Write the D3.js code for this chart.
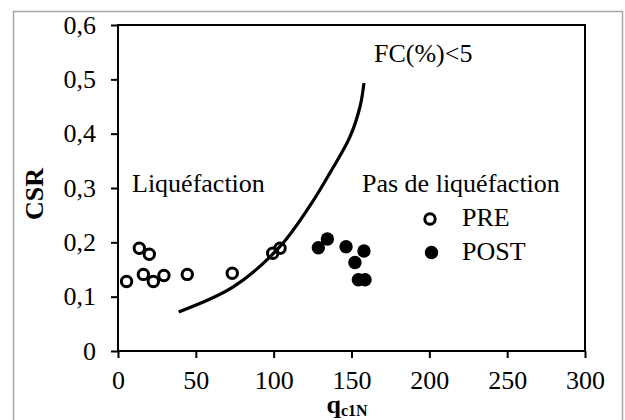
<!DOCTYPE html>
<html>
<head>
<meta charset="utf-8">
<script src="https://cdn.jsdelivr.net/npm/d3@7"></script>
<style>
  body { margin: 0; background: #fff; }
  svg text { font-family: "Liberation Serif", "Times New Roman", "DejaVu Serif", serif !important; fill: #000; }
</style>
</head>
<body>
<div id="chart"></div>
<script>
// DATA //
const preQ   = [5.5, 13.7, 20.1, 16.3, 22.7, 29.5, 44.5, 73.4, 99.4, 104.1];
const preCSR = [0.128, 0.189, 0.178, 0.141, 0.128, 0.139, 0.141, 0.143, 0.180, 0.189];

const postQ   = [128.7, 134.5, 146.5, 158.0, 152.2, 154.4, 158.7];
const postCSR = [0.190, 0.206, 0.192, 0.184, 0.163, 0.131, 0.131];

// boundary curve FC(%)<5
const curveQ   = [39, 74, 104, 123, 136, 149, 155.5, 158];
const curveCSR = [0.072, 0.118, 0.192, 0.266, 0.327, 0.394, 0.45, 0.493];

const xTicks = [0, 50, 100, 150, 200, 250, 300];
const yTicks = [0, 0.1, 0.2, 0.3, 0.4, 0.5, 0.6];

// DIMENSIONS //
const W = 625, H = 420;
const margin = {top: 25, right: 40, bottom: 69, left: 118};
const width = 585 - margin.left,
      height = 351 - margin.top;
const serif = '"Liberation Serif", "Times New Roman", "DejaVu Serif", serif';

const svg = d3.select("#chart").append("svg")
    .attr("width", W)
    .attr("height", H);

// outer frame
svg.append("rect")
    .attr("x", 13.5).attr("y", 11.5)
    .attr("width", 609).attr("height", 420)
    .attr("fill", "none")
    .attr("stroke", "#a6a6a6")
    .attr("stroke-width", 1.5);

const g = svg.append("g")
    .attr("transform", "translate(" + margin.left + "," + margin.top + ")");

const x = d3.scaleLinear().domain([0, 300]).range([0, width]);
const y = d3.scaleLinear().domain([0, 0.6]).range([height, 0]);

const fmt = d => d === 0 ? "0" : d3.format(".1f")(d).replace(".", ",");

// AXES //
const xAxis = g.append("g")
    .call(d3.axisBottom(x).tickValues(xTicks).tickSize(7).tickSizeOuter(0).tickPadding(13));

xAxis.attr("transform", "translate(0," + height + ")");

const yAxis = g.append("g")
    .call(d3.axisLeft(y).tickValues(yTicks).tickFormat(fmt).tickSize(7).tickSizeOuter(0).tickPadding(15));

[xAxis, yAxis].forEach(a => {
  a.attr("font-family", serif).attr("font-size", 26);
  a.select(".domain").remove();
  a.selectAll("line").attr("stroke", "#000").attr("stroke-width", 2);
  a.selectAll("text").style("font-family", serif).style("font-size", "26px").attr("fill", "#000");
});

// plot box
g.append("rect")
    .attr("x", 0).attr("y", 0)
    .attr("width", width).attr("height", height)
    .attr("fill", "none")
    .attr("stroke", "#000")
    .attr("stroke-width", 2);

// CURVE //
g.append("path")
    .datum(curveQ.map((q, i) => [q, curveCSR[i]]))
    .attr("fill", "none")
    .attr("stroke", "#000")
    .attr("stroke-width", 3.2)
    .attr("d", d3.line().x(d => x(d[0])).y(d => y(d[1])).curve(d3.curveCatmullRom));

// POINTS //
g.selectAll(".pre")
    .data(preQ.map((q, i) => [q, preCSR[i]]))
    .join("circle")
    .attr("class", "pre")
    .attr("cx", d => x(d[0])).attr("cy", d => y(d[1]))
    .attr("r", 5.2)
    .attr("fill", "none").attr("stroke", "#000").attr("stroke-width", 3);

g.selectAll(".post")
    .data(postQ.map((q, i) => [q, postCSR[i]]))
    .join("circle")
    .attr("class", "post")
    .attr("cx", d => x(d[0])).attr("cy", d => y(d[1]))
    .attr("r", 6.7)
    .attr("fill", "#000");

// LABELS //
const label = (tx, ty, s) => svg.append("text")
    .attr("x", tx).attr("y", ty)
    .style("font-family", serif)
    .style("font-size", "26px")
    .text(s);

label(374, 62, "FC(%)<5");
label(132, 192, "Liquéfaction");
label(362, 192, "Pas de liquéfaction");
label(462, 226, "PRE");
label(462, 260, "POST");

// legend markers
svg.append("circle").attr("cx", 430).attr("cy", 219).attr("r", 5.2)
    .attr("fill", "none").attr("stroke", "#000").attr("stroke-width", 3);
svg.append("circle").attr("cx", 431.5).attr("cy", 252.5).attr("r", 6.7)
    .attr("fill", "#000");

// axis titles
svg.append("text")
    .attr("transform", "translate(43,194) rotate(-90)")
    .attr("text-anchor", "middle")
    .style("font-family", serif)
    .style("font-size", "26px")
    .style("font-weight", "bold")
    .text("CSR");

const xt = svg.append("text")
    .attr("x", 347).attr("y", 413)
    .attr("text-anchor", "middle")
    .style("font-family", serif)
    .style("font-weight", "bold");
xt.append("tspan").style("font-size", "26px").text("q");
xt.append("tspan").style("font-size", "16px").attr("dy", 3).text("c1N");
</script>
</body>
</html>
